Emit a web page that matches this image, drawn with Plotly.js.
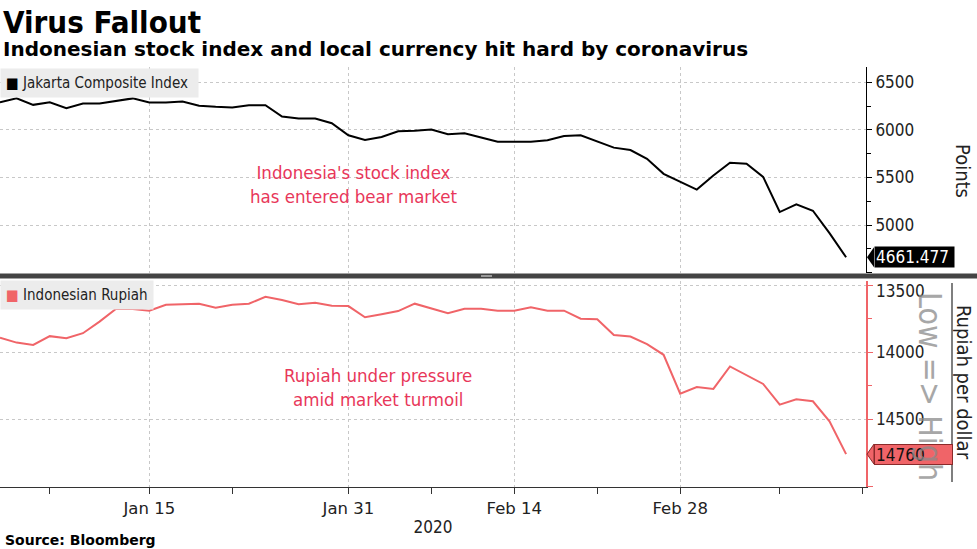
<!DOCTYPE html>
<html><head><meta charset="utf-8">
<script src="https://cdn.plot.ly/plotly-3.0.1.min.js"></script>
<style>html,body{margin:0;padding:0;background:#fff}#chart{width:977px;height:549px}</style>
</head><body><div id="chart"></div>
<script>
// ---- data ----
const dates = [
  '2020-01-02','2020-01-03','2020-01-06','2020-01-07','2020-01-08','2020-01-09','2020-01-10',
  '2020-01-13','2020-01-14','2020-01-15','2020-01-16','2020-01-17','2020-01-20','2020-01-21',
  '2020-01-22','2020-01-23','2020-01-24','2020-01-27','2020-01-28','2020-01-29','2020-01-30',
  '2020-01-31','2020-02-03','2020-02-04','2020-02-05','2020-02-06','2020-02-07','2020-02-10',
  '2020-02-11','2020-02-12','2020-02-13','2020-02-14','2020-02-17','2020-02-18','2020-02-19',
  '2020-02-20','2020-02-21','2020-02-24','2020-02-25','2020-02-26','2020-02-27','2020-02-28',
  '2020-03-02','2020-03-03','2020-03-04','2020-03-05','2020-03-06','2020-03-09','2020-03-10',
  '2020-03-11','2020-03-12','2020-03-13'
];
const jciName = 'Jakarta Composite Index';
const idrName = 'Indonesian Rupiah';
const jci = [
  6290, 6332, 6264, 6290, 6229, 6279, 6279, 6307, 6332, 6290, 6290, 6300, 6254, 6243, 6237, 6261, 6261,
  6142, 6120, 6120, 6071, 5944, 5894, 5926, 5986, 5993, 6004, 5955, 5965, 5920, 5877, 5877, 5877, 5891, 5937,
  5944, 5880, 5814, 5789, 5697, 5539, 5454, 5373, 5521, 5655, 5645, 5507, 5137, 5218, 5151, 4915, 4661.477
];
const idr = [
  13892, 13929, 13946, 13881, 13896, 13859, 13773, 13677, 13679, 13691, 13647, 13644, 13639, 13669, 13647, 13639, 13588, 13612,
  13644, 13632, 13654, 13657, 13740, 13718, 13694, 13639, 13674, 13711, 13677, 13677, 13691, 13691, 13666, 13691, 13691,
  13751, 13755, 13872, 13884, 13941, 14020, 14309, 14260, 14274, 14107, 14174, 14237, 14391, 14352, 14366, 14515, 14760
];
const majorTickDates = ['2020-01-15','2020-01-31','2020-02-14','2020-02-28'];
const majorTickText = ['Jan 15','Jan 31','Feb 14','Feb 28'];
const minorTickDates = ['2020-01-07','2020-01-22','2020-02-07','2020-02-21','2020-03-09','2020-03-16'];
const jciTicks = [4500, 5000, 5500, 6000, 6500];
const jciTickText = ['', '5000', '5500', '6000', '6500'];
const idrTicks = [13500, 14000, 14500, 15000];
const idrTickText = ['', '14000', '14500', ''];
const idrTopLabel = 13500;

// trading-day scale (weekdays counted from the first date)
function tradingIndex(ds) {
  const start = new Date(dates[0] + 'T00:00:00Z');
  const end = new Date(ds + 'T00:00:00Z');
  let n = 0;
  for (let d = new Date(start); d < end; d.setUTCDate(d.getUTCDate() + 1)) {
    const wd = new Date(d.getTime() + 86400000).getUTCDay();
    if (wd !== 0 && wd !== 6) n++;
  }
  return n;
}
const xs = dates.map(tradingIndex);

const F = '"DejaVu Sans Condensed", "DejaVu Sans", sans-serif';
const FW = '"DejaVu Sans", sans-serif';
const RED = '#f06468';
const PINK = '#e8375a';
const py = p => (487 - p) / 420;   // page pixel -> paper y
const px = p => p / 866;           // page pixel -> paper x

const traces = [
  {x: xs, y: jci, xaxis: 'x2', yaxis: 'y', type: 'scatter', mode: 'lines',
   line: {color: '#000', width: 2}, name: jciName, showlegend: false},
  {x: xs, y: idr, xaxis: 'x', yaxis: 'y2', type: 'scatter', mode: 'lines',
   line: {color: RED, width: 2}, name: idrName, showlegend: false}
];

const jciLast = jci[jci.length - 1];
const idrLast = idr[idr.length - 1];

const xCommon = {
  range: [0, 52.2], showgrid: true, gridcolor: '#c8c8c8', griddash: 'dot', gridwidth: 1,
  tickmode: 'array', tickvals: majorTickDates.map(tradingIndex), zeroline: false
};

const layout = {
  width: 977, height: 549,
  margin: {l: 0, r: 111, t: 67, b: 62},
  paper_bgcolor: '#fff', plot_bgcolor: '#fff',
  font: {family: F, color: '#222', size: 17},
  showlegend: false,
  xaxis: Object.assign({}, xCommon, {
    anchor: 'y2', ticktext: majorTickText, ticks: 'outside', ticklen: 6, tickcolor: '#333',
    showline: true, linecolor: '#333', linewidth: 1,
    tickfont: {family: FW, size: 16.5, color: '#222'},
    minor: {tickmode: 'array', tickvals: minorTickDates.map(tradingIndex), ticks: 'outside', ticklen: 6, tickcolor: '#333', showgrid: false},
    title: {text: '2020', font: {family: F, size: 17, color: '#222'}, standoff: 4}
  }),
  xaxis2: Object.assign({}, xCommon, {
    anchor: 'y', matches: 'x', showticklabels: false, ticks: ''
  }),
  yaxis: {
    domain: [0.5095, 1], anchor: 'x2', side: 'right', range: [4496, 6662],
    tickmode: 'array', tickvals: jciTicks, ticktext: jciTickText,
    showgrid: true, gridcolor: '#c8c8c8', griddash: 'dot', zeroline: false,
    showline: true, linecolor: '#000', linewidth: 1,
    ticks: 'outside', ticklen: 5, tickcolor: '#000',
    minor: {dtick: 250, tick0: 0, ticks: 'outside', ticklen: 4, tickcolor: '#000', showgrid: false},
    tickfont: {family: F, size: 17, color: '#222'}
  },
  yaxis2: {
    domain: [0, 0.4905], anchor: 'x', side: 'right', range: [15005, 13470],
    tickmode: 'array', tickvals: idrTicks, ticktext: idrTickText,
    showgrid: true, gridcolor: '#c8c8c8', griddash: 'dot', zeroline: false,
    showline: true, linecolor: RED, linewidth: 1.5,
    ticks: 'outside', ticklen: 5, tickcolor: RED,
    minor: {dtick: 250, tick0: 0, ticks: 'outside', ticklen: 4, tickcolor: RED, showgrid: false},
    tickfont: {family: F, size: 17, color: '#222'}
  },
  shapes: [
    {type: 'line', xref: 'paper', yref: 'paper', x0: 0, x1: px(977), y0: py(276), y1: py(276),
     line: {color: '#444', width: 5}},
    {type: 'line', xref: 'paper', yref: 'paper', x0: px(481), x1: px(492), y0: py(276), y1: py(276),
     line: {color: '#9a9a9a', width: 2}},
    {type: 'line', xref: 'paper', yref: 'paper', x0: px(952), x1: px(952), y0: py(283), y1: py(482),
     line: {color: '#555', width: 1.5}},
    {type: 'path', xref: 'paper', yref: 'y', xsizemode: 'pixel', ysizemode: 'pixel',
     xanchor: 1, yanchor: jciLast, path: 'M 1 0 L 8 -10 L 8 10 Z', fillcolor: '#000', line: {width: 0}},
    {type: 'path', xref: 'paper', yref: 'y2', xsizemode: 'pixel', ysizemode: 'pixel',
     xanchor: 1, yanchor: idrLast, path: 'M 1 0 L 8 -10 L 8 10 Z', fillcolor: RED, line: {color: '#8a2a2a', width: 1}}
  ],
  annotations: [
    {xref: 'paper', yref: 'paper', x: px(1), y: py(2), xanchor: 'left', yanchor: 'top', showarrow: false,
     text: '<b>Virus Fallout</b>', font: {family: F, size: 31, color: '#000'}},
    {xref: 'paper', yref: 'paper', x: px(1), y: py(35), xanchor: 'left', yanchor: 'top', showarrow: false,
     text: '<b>Indonesian stock index and local currency hit hard by coronavirus</b>', font: {family: FW, size: 20, color: '#000'}},
    {xref: 'paper', yref: 'paper', x: px(3), y: py(540), xanchor: 'left', yanchor: 'middle', showarrow: false,
     text: '<b>Source: Bloomberg</b>', font: {family: FW, size: 14, color: '#000'}},
    {xref: 'paper', yref: 'paper', x: 0, y: py(68), xanchor: 'left', yanchor: 'top', showarrow: false,
     text: '<span style="color:#000">■</span> ' + jciName, align: 'left', width: 187, borderpad: 5,
     bgcolor: '#ececec', font: {family: F, size: 15, color: '#222'}},
    {xref: 'paper', yref: 'paper', x: 0, y: py(280), xanchor: 'left', yanchor: 'top', showarrow: false,
     text: '<span style="color:' + RED + '">■</span> ' + idrName, align: 'left', width: 142, borderpad: 5,
     bgcolor: '#ececec', font: {family: F, size: 15, color: '#222'}},
    {xref: 'x2', yref: 'y', x: 21.3, y: 5426, showarrow: false,
     text: "Indonesia's stock index<br>has entered bear market", font: {family: F, size: 18.5, color: PINK}},
    {xref: 'x', yref: 'y2', x: 22.8, y: 14265, showarrow: false,
     text: 'Rupiah under pressure<br>amid market turmoil', font: {family: F, size: 18.5, color: PINK}},
    {xref: 'paper', yref: 'y2', x: 1, y: idrTopLabel, xanchor: 'left', yanchor: 'middle', xshift: 8, yshift: -6, showarrow: false,
     text: String(idrTopLabel), font: {family: F, size: 17, color: '#222'}},
    {xref: 'paper', yref: 'y', x: 1, y: jciLast, xanchor: 'left', yanchor: 'middle', xshift: 8, showarrow: false,
     text: jciLast.toFixed(3), bgcolor: '#000', align: 'left', width: 77, height: 18, borderpad: 1,
     font: {family: F, size: 17, color: '#fff'}},
    {xref: 'paper', yref: 'y2', x: 1, y: idrLast, xanchor: 'left', yanchor: 'middle', xshift: 8, showarrow: false,
     text: String(idrLast), bgcolor: RED, bordercolor: '#8a2a2a', borderwidth: 1, align: 'left', width: 75, height: 17, borderpad: 1,
     font: {family: F, size: 17, color: '#111'}},
    {xref: 'paper', yref: 'paper', x: px(963), y: py(171), xanchor: 'center', yanchor: 'middle', textangle: 90, showarrow: false,
     text: 'Points', font: {family: F, size: 20, color: '#222'}},
    {xref: 'paper', yref: 'paper', x: px(964), y: py(382), xanchor: 'center', yanchor: 'middle', textangle: 90, showarrow: false,
     text: 'Rupiah per dollar', font: {family: F, size: 20, color: '#222'}},
    {xref: 'paper', yref: 'paper', x: px(930), y: py(386), xanchor: 'center', yanchor: 'middle', textangle: 90, showarrow: false,
     text: 'Low =&gt; High', opacity: 0.75, font: {family: F, size: 32, color: '#8a8a8a'}}
  ]
};

Plotly.newPlot('chart', traces, layout, {staticPlot: true, displayModeBar: false});
</script></body></html>
